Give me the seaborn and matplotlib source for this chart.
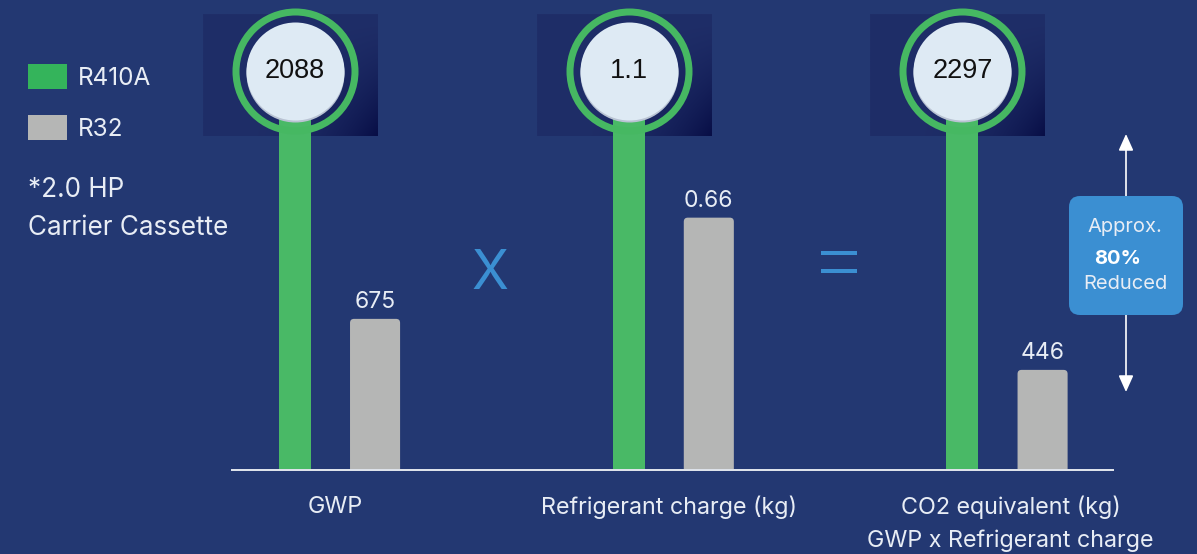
import numpy as np
import pandas as pd
import seaborn as sns
import matplotlib.pyplot as plt
from matplotlib.patches import Patch, FancyBboxPatch, FancyArrowPatch
from matplotlib.transforms import ScaledTranslation

# ---- data ----
categories = ["GWP", "Refrigerant charge (kg)", "CO2 equivalent (kg)\nGWP x Refrigerant charge"]
r410a = [2088, 1.1, 2297]
r32 = [675, 0.66, 446]
# drawn height of the R32 bar, relative to the R410A bar of the same group
r32_height = [0.378, 0.632, 0.25]
legend_labels = ["R410A", "R32"]
note_lines = ["*2.0 HP", "Carrier Cassette"]
reduction_lines = ["Approx.", "80%", "Reduced"]

# ---- style ----
BG = "#233872"
GREEN = "#49b966"
LEGEND_GREEN = "#34b45b"
GRAY = "#b5b6b5"
BLUE = "#3b8fd2"
TEXT = "#e8edf5"

sns.set_theme(style="white")
plt.rcParams["font.family"] = ["Inter", "DejaVu Sans"]

W, H = 1197, 554
fig = plt.figure(figsize=(W / 100, H / 100), dpi=100, facecolor=BG)
base_y = 469.5
ax = fig.add_axes([232 / W, (H - base_y) / H, (1113 - 232) / W, base_y / H])
ax.patch.set_alpha(0)

idx = np.arange(len(categories))
green_df = pd.DataFrame({"pos": idx - 0.12, "height": [1.0] * len(idx)})
gray_df = pd.DataFrame({"pos": idx + 0.12, "height": r32_height})

sns.barplot(data=green_df, x="pos", y="height", native_scale=True, orient="x",
            width=0.096, color=GREEN, saturation=1, linewidth=0, errorbar=None,
            ax=ax, zorder=2)
n_green = len(ax.patches)
sns.barplot(data=gray_df, x="pos", y="height", native_scale=True, orient="x",
            width=0.15, color=GRAY, saturation=1, linewidth=0, errorbar=None,
            ax=ax, zorder=2)

xlim = (-0.3086, 2.331)
ylim = (0, base_y / 398.5)
px_x = (1113 - 232) / (xlim[1] - xlim[0])   # pixels per x unit
px_y = base_y / ylim[1]                       # pixels per y unit

# round the top corners of the gray bars
for p in list(ax.patches[n_green:]):
    x0, w, h = p.get_x(), p.get_width(), p.get_height()
    p.remove()
    ax.add_patch(FancyBboxPatch((x0, -0.03), w, h + 0.03,
                                boxstyle=f"round,pad=0,rounding_size={4 / px_x}",
                                mutation_aspect=px_x / px_y,
                                fc=GRAY, ec="none", zorder=2))

for x, val, h in zip(idx + 0.12, r32, r32_height):
    ax.annotate(f"{val:g}", xy=(x, h), xytext=(0, 8), textcoords="offset points",
                ha="center", va="baseline", fontsize=16.5, color=TEXT)

# dark square + ring + disc on top of each green bar
u, v = np.meshgrid(np.linspace(0, 1, 120), np.linspace(0, 1, 120))
t = np.clip(u ** 3 * v ** 1.5, 0, 1)[..., None]
sq_base = np.array([31, 46, 104]) / 255
sq_dark = np.array([8, 14, 70]) / 255
square = sq_base * (1 - t) + sq_dark * t

for x, val in zip(idx - 0.12, r410a):
    ax.imshow(square, extent=(x - 92 / px_x, x + 83 / px_x, 1 - 65 / px_y, 1 + 57 / px_y),
              aspect="auto", zorder=1, interpolation="bilinear", clip_on=False)
    ax.plot([x], [1.0], marker="o", ms=119 * 0.72, mfc="none", mec="#46b862",
            mew=7 * 0.72, zorder=3, clip_on=False)
    ax.plot([x], [1.0 - 2 / px_y], marker="o", ms=98 * 0.72, mfc="#b9c3d3", mec="none",
            zorder=4, clip_on=False)
    ax.plot([x], [1.0], marker="o", ms=98 * 0.72, mfc="#deeaf4", mec="none", zorder=4,
            clip_on=False)
    ax.text(x, 1.0, f"{val:g}", ha="center", va="center", fontsize=19.5,
            family=["Liberation Sans", "DejaVu Sans"], color="#111111", zorder=5)

# operators between the groups
ax.text(0.464, 0.49, "X", ha="center", va="center", fontsize=39, color=BLUE)
eq_x0, eq_x1 = 1.5115 - 18 / px_x, 1.5115 + 18 / px_x
ax.hlines([0.544, 0.499], eq_x0, eq_x1, colors=BLUE, lw=4 * 0.72)

ax.set_xlim(*xlim)
ax.set_ylim(*ylim)
ax.set_xticks(idx, categories, linespacing=1.6)
ax.tick_params(axis="x", length=0, pad=19, labelsize=16.8, colors=TEXT)
last = ax.get_xticklabels()[2]
last.set_transform(last.get_transform() + ScaledTranslation(0.08, 0, fig.dpi_scale_trans))
ax.set_yticks([])
ax.set_xlabel("")
ax.set_ylabel("")
for s in ["top", "left", "right"]:
    ax.spines[s].set_visible(False)
ax.spines["bottom"].set_color("#dde2ea")
ax.spines["bottom"].set_linewidth(2 * 0.72)

# legend and note
handles = [Patch(fc=LEGEND_GREEN, ec="none"), Patch(fc=GRAY, ec="none")]
fig.legend(handles, legend_labels, loc="upper left", bbox_to_anchor=(28 / W, 1 - 64 / H),
           frameon=False, borderpad=0, borderaxespad=0, handlelength=1.6,
           handleheight=1.18, handletextpad=0.45, labelspacing=1.05,
           fontsize=17.5, labelcolor=TEXT)
fig.text(28 / W, 1 - 197 / H, note_lines[0], fontsize=18.8, color=TEXT, va="baseline")
fig.text(28 / W, 1 - 235 / H, note_lines[1], fontsize=18.8, color=TEXT, va="baseline")

# reduction arrow and box (inch coordinates)
inch = fig.dpi_scale_trans
fig.add_artist(FancyArrowPatch((11.26, (H - 392) / 100), (11.26, (H - 134) / 100),
                               transform=inch, arrowstyle="<|-|>,head_length=1.0,head_width=0.45",
                               mutation_scale=10, color="white", lw=1.2,
                               shrinkA=0, shrinkB=0))
fig.add_artist(FancyBboxPatch((10.69, (H - 315) / 100), 1.14, 1.19,
                              boxstyle="round,pad=0,rounding_size=0.11",
                              transform=inch, fc=BLUE, ec="none"))
fig.text(1125 / W, 1 - 227 / H, reduction_lines[0], ha="center", va="center",
         fontsize=14.5, color=TEXT)
fig.text(1118 / W, 1 - 259 / H, reduction_lines[1], ha="center", va="center",
         fontsize=14.5, color="white", fontweight="bold")
fig.text(1125 / W, 1 - 284 / H, reduction_lines[2], ha="center", va="center",
         fontsize=14.5, color=TEXT)

fig.savefig("out.png", dpi=100, facecolor=BG)
